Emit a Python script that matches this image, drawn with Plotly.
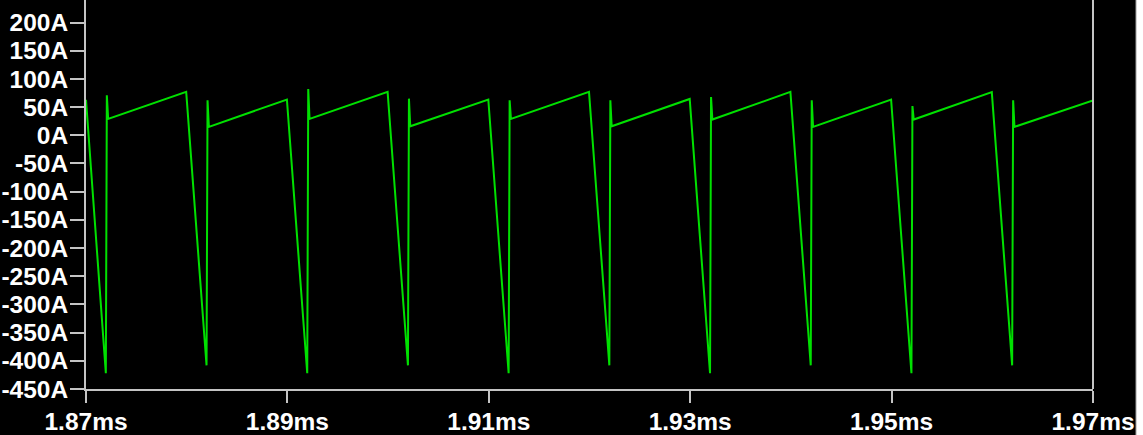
import plotly.graph_objects as go

# Inductor current waveform, 1.87 ms .. 1.97 ms
time_ms = [
    1.87000,
    1.87185, 1.87197, 1.87207, 1.87220, 1.87995,
    1.88185, 1.88197, 1.88207, 1.88220, 1.88995,
    1.89185, 1.89197, 1.89207, 1.89220, 1.89995,
    1.90185, 1.90197, 1.90207, 1.90220, 1.90995,
    1.91185, 1.91197, 1.91207, 1.91220, 1.91995,
    1.92185, 1.92197, 1.92207, 1.92220, 1.92995,
    1.93185, 1.93197, 1.93207, 1.93220, 1.93995,
    1.94185, 1.94197, 1.94207, 1.94220, 1.94995,
    1.95185, 1.95197, 1.95207, 1.95220, 1.95995,
    1.96185, 1.96197, 1.96207, 1.96220, 1.97000,
]
current_a = [
    63,
    -383, -422, 71, 29, 77,
    -380, -408, 62, 15, 63.5,
    -383, -422, 82, 29, 77,
    -380, -408, 65, 16, 63.5,
    -383, -422, 62, 29, 77,
    -380, -408, 62, 16, 64.5,
    -383, -422, 68, 28, 77,
    -380, -408, 62, 15, 63.5,
    -383, -422, 52, 28, 76.5,
    -380, -408, 62, 15, 62,
]

x_tick_vals = [1.87, 1.89, 1.91, 1.93, 1.95, 1.97]
x_tick_text = ["1.87ms", "1.89ms", "1.91ms", "1.93ms", "1.95ms", "1.97ms"]
y_tick_vals = [200, 150, 100, 50, 0, -50, -100, -150, -200, -250, -300, -350, -400, -450]
y_tick_text = ["200A", "150A", "100A", "50A", "0A", "-50A", "-100A", "-150A",
               "-200A", "-250A", "-300A", "-350A", "-400A", "-450A"]

AXIS_GREY = "#c4c4c4"
tick_font = dict(family="Liberation Sans, Arial, sans-serif", size=24.5,
                 color="#ffffff", weight="bold")

fig = go.Figure()
fig.add_trace(go.Scatter(
    x=time_ms, y=current_a, mode="lines",
    line=dict(color="#00e000", width=2),
    hoverinfo="skip", showlegend=False,
))

fig.update_layout(
    width=1143, height=435,
    margin=dict(l=86, r=50, t=0, b=44),
    paper_bgcolor="#000000", plot_bgcolor="#000000",
    showlegend=False,
    xaxis=dict(
        range=[1.87, 1.97], tickvals=x_tick_vals, ticktext=x_tick_text,
        showgrid=False, zeroline=False,
        showline=True, linecolor=AXIS_GREY, linewidth=2, mirror=False,
        ticks="outside", ticklen=12, tickwidth=2, tickcolor=AXIS_GREY,
        tickfont=tick_font, ticklabelstandoff=-2,
    ),
    yaxis=dict(
        range=[-450, 240], tickvals=y_tick_vals, ticktext=y_tick_text,
        showgrid=False, zeroline=False,
        showline=True, linecolor=AXIS_GREY, linewidth=2,
        ticks="outside", ticklen=14, tickwidth=2, tickcolor=AXIS_GREY,
        tickfont=tick_font, ticklabelstandoff=-3,
    ),
    shapes=[
        # right border of the plot area
        dict(type="line", xref="paper", yref="paper", x0=1, x1=1, y0=0, y1=1,
             line=dict(color=AXIS_GREY, width=2)),
        # window edge on the far right
        dict(type="rect", xref="paper", yref="paper",
             x0=(1136 - 86) / 1007, x1=1.06, y0=-0.2, y1=1.05,
             fillcolor="#ffffff", line=dict(color="#a0a0a0", width=1)),
    ],
)

fig.write_html("out.html")
